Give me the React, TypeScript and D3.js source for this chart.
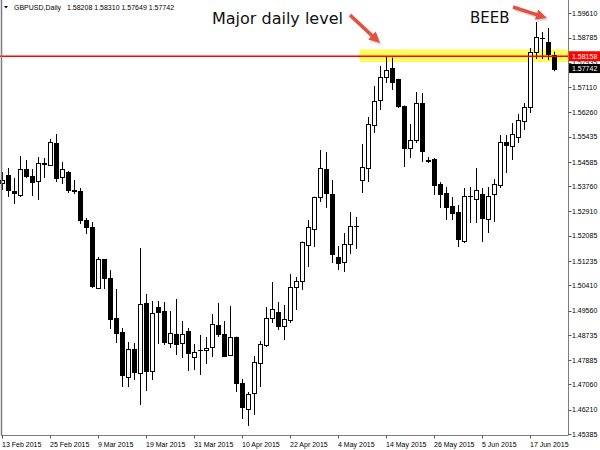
import React from 'react';
import * as d3 from 'd3';

// GBPUSD daily candles, 13 Feb 2015 .. 23 Jun 2015
const opens = [
  1.53872, 1.54143, 1.53602, 1.53466, 1.54346, 1.54109, 1.5394, 1.54532, 1.54481, 1.55225,
  1.54075, 1.54244, 1.53635, 1.53602, 1.52621, 1.52384, 1.50322, 1.51302, 1.5066, 1.49308,
  1.48834, 1.47313, 1.48259, 1.47448, 1.49815, 1.47515, 1.49679, 1.49544, 1.48462, 1.48767,
  1.48462, 1.48868, 1.47989, 1.48225, 1.48225, 1.48327, 1.49071, 1.48767, 1.48056, 1.48665,
  1.4711, 1.46231, 1.46772, 1.47786, 1.48395, 1.49308, 1.4951, 1.49037, 1.4924, 1.50356,
  1.50559, 1.51776, 1.52317, 1.53399, 1.54346, 1.535, 1.5137, 1.51201, 1.5181, 1.52418,
  1.53974, 1.54379, 1.55833, 1.56679, 1.57456, 1.57761, 1.57389, 1.56476, 1.55056, 1.55326,
  1.56577, 1.5465, 1.54684, 1.53838, 1.53534, 1.53095, 1.52892, 1.51911, 1.53433, 1.53331,
  1.535, 1.52655, 1.535, 1.53805, 1.55259, 1.55123, 1.55428, 1.55969, 1.56442, 1.58302,
  1.58775, 1.5864, 1.58208,
];
const highs = [
  1.54244, 1.54379, 1.54041, 1.54785, 1.5465, 1.54346, 1.54751, 1.54718, 1.5536, 1.55529,
  1.54582, 1.54278, 1.53974, 1.53703, 1.52689, 1.52554, 1.5137, 1.51302, 1.50931, 1.50288,
  1.48969, 1.48496, 1.48462, 1.51674, 1.50119, 1.49882, 1.49882, 1.49849, 1.49544, 1.4995,
  1.49206, 1.48969, 1.48428, 1.48733, 1.48665, 1.49443, 1.49815, 1.49206, 1.49713, 1.4868,
  1.47245, 1.46805, 1.48023, 1.4853, 1.49679, 1.50525, 1.49849, 1.49747, 1.50795, 1.50694,
  1.5189, 1.52621, 1.5341, 1.54988, 1.5492, 1.53974, 1.51742, 1.52182, 1.52892, 1.52723,
  1.55191, 1.56104, 1.57152, 1.57828, 1.5815, 1.5811, 1.574, 1.5649, 1.55867, 1.56949,
  1.56915, 1.54751, 1.54718, 1.539, 1.53737, 1.53399, 1.53128, 1.53703, 1.53737, 1.54379,
  1.53703, 1.53737, 1.54008, 1.55495, 1.55495, 1.55901, 1.56205, 1.56577, 1.58437, 1.59316,
  1.58978, 1.59113, 1.5831,
];
const lows = [
  1.53635, 1.53399, 1.53162, 1.53399, 1.54041, 1.53433, 1.53297, 1.54041, 1.54447, 1.53906,
  1.53838, 1.53534, 1.535, 1.52486, 1.52148, 1.50322, 1.50288, 1.50288, 1.48936, 1.48462,
  1.46974, 1.46974, 1.47211, 1.46366, 1.46839, 1.47211, 1.48428, 1.48395, 1.48293, 1.48056,
  1.47955, 1.47515, 1.47549, 1.4738, 1.47752, 1.47989, 1.48665, 1.4801, 1.48023, 1.46805,
  1.45892, 1.45656, 1.46028, 1.46974, 1.48327, 1.49138, 1.48902, 1.48564, 1.49138, 1.49578,
  1.50254, 1.51032, 1.51708, 1.5323, 1.53027, 1.51167, 1.50931, 1.50863, 1.51472, 1.51641,
  1.53534, 1.53906, 1.55563, 1.56341, 1.57254, 1.57017, 1.56408, 1.54413, 1.54718, 1.55225,
  1.54582, 1.54549, 1.53466, 1.53027, 1.52621, 1.52621, 1.51708, 1.51843, 1.5252, 1.5252,
  1.51877, 1.52182, 1.52554, 1.53703, 1.5421, 1.5465, 1.55225, 1.55664, 1.56239, 1.58065,
  1.58065, 1.58031, 1.57649,
];
const closes = [
  1.53974, 1.53635, 1.53534, 1.54346, 1.54109, 1.53906, 1.54549, 1.54549, 1.55259, 1.54041,
  1.54346, 1.53635, 1.53602, 1.52621, 1.52384, 1.5039, 1.51302, 1.5066, 1.49274, 1.488,
  1.4738, 1.48259, 1.47482, 1.49781, 1.47515, 1.49477, 1.4951, 1.48496, 1.488, 1.48428,
  1.48767, 1.48124, 1.48158, 1.4823, 1.48293, 1.49105, 1.48767, 1.48023, 1.48665, 1.4711,
  1.46298, 1.46738, 1.4782, 1.48428, 1.49308, 1.49612, 1.49037, 1.49274, 1.50356, 1.50559,
  1.51877, 1.52384, 1.53399, 1.54379, 1.53534, 1.51472, 1.51167, 1.5181, 1.52418, 1.52425,
  1.54413, 1.55867, 1.56645, 1.57456, 1.57693, 1.57287, 1.56476, 1.55056, 1.55326, 1.56577,
  1.54954, 1.54633, 1.53805, 1.535, 1.53061, 1.52858, 1.51979, 1.53433, 1.5344, 1.53635,
  1.52689, 1.53433, 1.53838, 1.55259, 1.55157, 1.55529, 1.56002, 1.56442, 1.58302, 1.58809,
  1.5877, 1.58234, 1.57742,
];

const dateLabels = [
  '13 Feb 2015', '25 Feb 2015', '9 Mar 2015', '19 Mar 2015', '31 Mar 2015', '10 Apr 2015',
  '22 Apr 2015', '4 May 2015', '14 May 2015', '26 May 2015', '5 Jun 2015', '17 Jun 2015',
];
const dateBars = [0, 8, 16, 24, 32, 40, 48, 56, 64, 72, 80, 88];

const priceTicks = [
  1.5961, 1.58785, 1.57935, 1.5711, 1.5626, 1.55435, 1.54585, 1.5376, 1.5291,
  1.52085, 1.51235, 1.5041, 1.4956, 1.48735, 1.47885, 1.4706, 1.4621, 1.45385,
];

const levelPrice = 1.58158;
const zoneBand = [1.57964, 1.58386];
const zoneStartBar = 59.5;
const lastPrice = 1.57742;
const headerValues = ['1.58208', '1.58310', '1.57649', '1.57742'];

const W = 600;
const H = 450;
const plotRight = 568.5;
const plotBottom = 435.5;
const small = "'Liberation Sans', Arial, sans-serif";
const big = "'DejaVu Sans', Verdana, sans-serif";
const arrowRed = '#e5513f';

function arrowPath(x1: number, y1: number, x2: number, y2: number) {
  const dx = x2 - x1, dy = y2 - y1;
  const len = Math.hypot(dx, dy);
  const ux = dx / len, uy = dy / len;
  const px = -uy, py = ux;
  const s = 1.8, hw = 5.5, hl = 11;
  const bx = x2 - ux * hl, by = y2 - uy * hl;
  const pts = [
    [x1 + px * s, y1 + py * s],
    [bx + px * s, by + py * s],
    [bx + px * hw, by + py * hw],
    [x2, y2],
    [bx - px * hw, by - py * hw],
    [bx - px * s, by - py * s],
    [x1 - px * s, y1 - py * s],
  ];
  return 'M' + pts.map(p => p.join(',')).join('L') + 'Z';
}

export default function App() {
  const x = d3.scaleLinear().domain([0, 92]).range([2.5, 554.5]);
  const y = d3.scaleLinear().domain([1.45385, 1.5961]).range([434, 13.3]);

  const candles = d3.range(opens.length).map(i => ({
    i, o: opens[i], h: highs[i], l: lows[i], c: closes[i],
  }));

  const arrows = [
    [350, 15, 380, 43],
    [513, 7, 547, 18],
  ];

  return (
    <div style={{ position: 'absolute', left: 0, top: 0 }}>
      <svg width={W} height={H} style={{ display: 'block', background: '#fff' }}>
        <rect x={0} y={0} width={W} height={H} fill="#fff" />

        {/* support / resistance zone */}
        <rect
          x={x(zoneStartBar)}
          y={y(zoneBand[1])}
          width={plotRight - x(zoneStartBar)}
          height={y(zoneBand[0]) - y(zoneBand[1])}
          fill="#fdfc5c"
        />

        {/* candles */}
        <g>
          {candles.map(d => {
            const cx = Math.round(x(d.i) - 0.5) + 0.5;
            const top = y(Math.max(d.o, d.c));
            const bot = y(Math.min(d.o, d.c));
            const bull = d.c >= d.o;
            const yt = Math.round(top) + 0.5;
            const hgt = Math.round(bot - top);
            return (
              <g key={d.i}>
                <line x1={cx} x2={cx} y1={y(d.h)} y2={y(d.l)} stroke="#000" strokeWidth={1} />
                {hgt < 1 ? (
                  <line x1={cx - 2.5} x2={cx + 2.5} y1={yt} y2={yt} stroke="#000" strokeWidth={1} />
                ) : (
                  <rect
                    x={cx - 2}
                    y={yt}
                    width={4}
                    height={hgt}
                    fill={bull ? '#fff' : '#000'}
                    stroke="#000"
                    strokeWidth={1}
                  />
                )}
              </g>
            );
          })}
        </g>

        {/* major level */}
        <line x1={0} x2={plotRight} y1={y(levelPrice)} y2={y(levelPrice)} stroke="#ff0000" strokeWidth={1.4} />

        {/* frame */}
        <line x1={1.5} x2={1.5} y1={0} y2={plotBottom} stroke="#7d7d7d" strokeWidth={1.5} />
        <line x1={plotRight} x2={plotRight} y1={0} y2={plotBottom} stroke="#7d7d7d" strokeWidth={1} />
        <line x1={1} x2={plotRight} y1={plotBottom} y2={plotBottom} stroke="#7d7d7d" strokeWidth={1} />

        {/* price axis */}
        <g fontFamily={small} fontSize={7} fill="#000">
          {priceTicks.map(t => (
            <g key={t}>
              <line x1={plotRight} x2={plotRight + 3} y1={Math.round(y(t)) + 0.5} y2={Math.round(y(t)) + 0.5} stroke="#555" />
              <text x={572} y={y(t) + 2.6}>{t.toFixed(5)}</text>
            </g>
          ))}
        </g>

        {/* price markers */}
        <rect x={569} y={y(levelPrice) - 5} width={31} height={10} fill="#ff0000" />
        <text x={572} y={y(levelPrice) + 2.6} fontFamily={small} fontSize={7} fill="#fff">
          {levelPrice.toFixed(5)}
        </text>
        <rect x={569} y={y(lastPrice) - 4.5} width={31} height={9} fill="#000" />
        <text x={572} y={y(lastPrice) + 2.6} fontFamily={small} fontSize={7} fill="#fff">
          {lastPrice.toFixed(5)}
        </text>

        {/* time axis */}
        <g fontFamily={small} fontSize={7} fill="#000">
          {dateBars.map((b, k) => (
            <g key={b}>
              <line x1={Math.round(x(b) - 0.5) + 0.5} x2={Math.round(x(b) - 0.5) + 0.5} y1={plotBottom} y2={plotBottom + 3} stroke="#555" />
              <text x={x(b) - 0.5} y={446.5}>{dateLabels[k]}</text>
            </g>
          ))}
        </g>

        {/* header */}
        <path d="M4,6 L8,6 L6,8.5 Z" fill="#000" />
        <text x={14} y={10} fontFamily={small} fontSize={7} fill="#000">
          GBPUSD,Daily{'  '}
          <tspan x={67}>{headerValues.join(' ')}</tspan>
        </text>

        {/* annotations */}
        <text x={212} y={24} fontFamily={big} fontSize={16} fill="#111">Major daily level</text>
        <text x={470} y={23} fontFamily={big} fontSize={15} fill="#111">BEEB</text>
        {arrows.map(([x1, y1, x2, y2], k) => (
          <g key={k}>
            <path d={arrowPath(x1 + 1.5, y1 + 2, x2 + 1.5, y2 + 2)} fill="#999" opacity={0.35} />
            <path d={arrowPath(x1, y1, x2, y2)} fill={arrowRed} />
          </g>
        ))}
      </svg>
    </div>
  );
}
